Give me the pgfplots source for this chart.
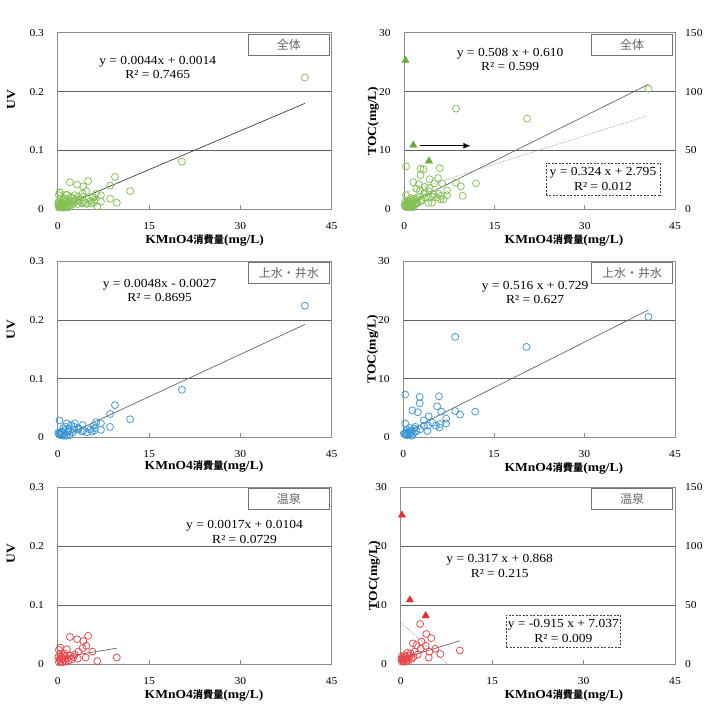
\documentclass[border=0pt]{standalone}
\usepackage{fontspec}
\setmainfont{Liberation Serif}[FakeStretch=1.1]
\newfontfamily\jp{Noto Sans CJK JP}
\usepackage{pgfplots}
\usepackage{pgfplotstable}
\pgfplotsset{compat=1.18}
\usetikzlibrary{arrows.meta}

\definecolor{gcol}{RGB}{132,192,84}
\definecolor{gtri}{RGB}{104,172,58}
\definecolor{bcol}{RGB}{58,150,212}
\definecolor{rcol}{RGB}{232,70,72}
\definecolor{rtri}{RGB}{228,48,48}

% tap / well water samples: KMnO4 consumption, UV absorbance, TOC
\pgfplotstableread{
x    uv    toc
40.6 0.224 20.5
20.4 0.081 15.4
11.9 0.031 4.4
9.4  0.055 3.9
8.6  0.040 17.1
8.6  0.018 4.5
7.1  0.024 3.2
7.1  0.013 2.4
6.3  0.026 4.4
6.1  0.016 2.3
6.0  0.012 1.7
5.9  0.020 7.0
5.6  0.010 5.3
5.4  0.014 2.0
4.8  0.009 2.5
4.2  0.012 3.6
4.1  0.021 2.0
4.0  0.010 1.1
3.4  0.016 2.9
3.4  0.014 2.0
2.8  0.024 1.4
2.7  0.018 6.9
2.7  0.013 5.8
2.4  0.008 4.3
2.2  0.021 1.1
1.9  0.004 0.9
1.8  0.015 1.5
1.6  0.010 0.6
1.5  0.024 4.6
1.3  0.018 1.2
1.2  0.006 0.8
1.1  0.012 1.6
1.0  0.003 0.5
0.9  0.016 1.0
0.8  0.008 0.7
0.7  0.005 1.3
0.6  0.010 0.4
0.5  0.004 0.9
0.4  0.007 0.45
0.3  0.029 7.3
0.3  0.005 2.4
0.2  0.006 0.6
0.1  0.008 0.7
2.0  0.011 1.8
1.4  0.003 0.3
}\wellwater

% hot spring samples
\pgfplotstableread{
x    uv    toc
9.7  0.011 2.3
6.5  0.005 1.7
5.7  0.021 2.6
5.0  0.048 4.4
4.7  0.031 2.1
4.6  0.011 1.1
4.2  0.039 5.1
4.1  0.027 3.1
3.4  0.021 3.8
3.2  0.042 6.8
2.6  0.012 3.2
2.3  0.008 2.1
2.0  0.046 3.5
2.8  0.016 1.6
3.3  0.009 2.6
2.1  0.014 1.2
1.8  0.006 0.9
1.6  0.010 1.8
1.5  0.025 1.4
1.3  0.004 0.6
1.2  0.012 1.0
1.1  0.018 1.9
1.0  0.007 0.5
0.9  0.015 1.2
0.8  0.003 0.8
0.7  0.009 0.4
0.6  0.012 1.5
0.5  0.005 0.7
0.4  0.028 1.1
0.4  0.016 0.5
0.3  0.008 0.9
0.2  0.024 1.3
0.2  0.003 0.4
0.1  0.012 0.8
}\hotspring

% hot spring samples read on the right-hand scale
\pgfplotstableread{
x   toc
0.2 25.3
1.5 10.9
4.1 8.2
}\hotspringout

\tikzset{
  tag/.style={draw=black!55, line width=0.6pt, fill=white, minimum width=81pt,
    minimum height=21pt, inner sep=0pt, anchor=north east, xshift=-2pt,
    yshift=-1pt, text=black!60, font=\jp\fontsize{12}{14}\selectfont},
  eq/.style={align=center, font=\fontsize{12.3}{14.4}\selectfont, inner sep=0pt},
  eqbox/.style={eq, draw=black!75, dash pattern=on 2pt off 1.5pt, line width=0.6pt,
    minimum width=114pt, minimum height=32pt},
}

\pgfplotsset{
  panel/.style={
    scale only axis, height=176.5pt, clip=false,
    xmin=0, xmax=45, xtick={0,15,30,45}, xticklabels={0,15,30,45},
    axis line style={black!45, line width=0.6pt},
    ymajorgrids, grid style={black!62, line width=0.6pt},
    xtick pos=bottom, tick align=inside, major tick length=4pt,
    xtick style={black!45, line width=0.6pt},
    ytick style={draw=none},
    tick label style={font=\fontsize{10.5}{12}\selectfont},
    xticklabel style={anchor=center, yshift=-17pt},
    yticklabel style={anchor=east, inner sep=0pt, xshift=-13.5pt},
    label style={font=\bfseries\fontsize{12.3}{14}\selectfont},
    xlabel={KMnO4{\jp\fontsize{10.2}{12}\selectfont 消費量}(mg/L)},
    xlabel style={anchor=center},
    ylabel style={anchor=center},
  },
  uvpanel/.style={panel, ymin=0, ymax=0.3, ytick={0,0.1,0.2,0.3},
    yticklabels={0,0.1,0.2,0.3}, ylabel={UV}},
  tocpanel/.style={panel, ymin=0, ymax=30, ytick={0,10,20,30},
    yticklabels={0,10,20,30}, ylabel={TOC(mg/L)}},
  pts/.style={only marks, mark=o, mark size=3.5pt, line width=0.75pt, #1},
  tri/.style={only marks, mark=triangle*, mark size=4.2pt, #1},
  fit/.style={black!60, line width=0.7pt, no marks},
  fitdot/.style={black!40, densely dotted, line width=0.7pt, no marks},
  rightscale/.style={scale only axis, height=176.5pt, xmin=0, xmax=45,
    ymin=0, ymax=150, axis x line=none, axis y line*=right,
    axis line style={draw=none}, ytick={0,50,100,150},
    yticklabels={0,50,100,150}, ytick style={draw=none},
    tick label style={font=\fontsize{10.5}{12}\selectfont},
    yticklabel style={anchor=west, inner sep=0pt, xshift=10pt}},
}

\begin{document}
\begin{tikzpicture}
\useasboundingbox (0pt,0pt) rectangle (707pt,725pt);

% ---- all samples: UV ----
\begin{axis}[uvpanel, at={(57.7pt,515.7pt)}, anchor=south west, width=274pt,
  xlabel style={at={(axis description cs:0.536,-0.174)}},
  ylabel style={at={(axis description cs:-0.170,0.62)}}]
\addplot[pts=gcol] table[x=x,y=uv]{\wellwater};
\addplot[pts=gcol] table[x=x,y=uv]{\hotspring};
\addplot[fit, black!75] coordinates {(0,0.0014) (40.6,0.18004)};
\node[eq] at (rel axis cs:0.365,0.802) {y = 0.0044x + 0.0014\\R² = 0.7465};
\node[tag] at (rel axis cs:1,1) {全体};
\end{axis}

% ---- all samples: TOC ----
\begin{axis}[tocpanel, at={(404.3pt,515.7pt)}, anchor=south west, width=270.7pt,
  xlabel style={at={(axis description cs:0.590,-0.174)}},
  ylabel style={at={(axis description cs:-0.1145,0.5)}}]
\addplot[pts=gcol] table[x=x,y=toc]{\wellwater};
\addplot[pts=gcol] table[x=x,y=toc]{\hotspring};
\addplot[tri=gtri] table[x=x,y=toc]{\hotspringout};
\addplot[fit] coordinates {(0.1,0.661) (40.6,21.235)};
\addplot[fitdot] coordinates {(0,2.795) (40.3,15.852)};
\draw[-{Latex[length=7pt,width=6pt]}, line width=1pt] (axis cs:2.6,10.8) -- (axis cs:11,10.8);
\node[eq] at (rel axis cs:0.391,0.849) {y = 0.508 x + 0.610\\R² = 0.599};
\node[eqbox] at (rel axis cs:0.734,0.172) {y = 0.324 x + 2.795\\R² = 0.012};
\node[tag] at (rel axis cs:1,1) {全体};
\end{axis}
\begin{axis}[rightscale, at={(404.3pt,515.7pt)}, anchor=south west, width=270.7pt]
\addplot[draw=none] coordinates {(0,0)};
\end{axis}

% ---- tap / well water: UV ----
\begin{axis}[uvpanel, at={(57.7pt,287.5pt)}, anchor=south west, width=274pt,
  xlabel style={at={(axis description cs:0.534,-0.165)}},
  ylabel style={at={(axis description cs:-0.171,0.61)}}]
\addplot[pts=bcol] table[x=x,y=uv]{\wellwater};
\addplot[fit] coordinates {(0.6,0.00018) (40.6,0.19218)};
\node[eq] at (rel axis cs:0.372,0.834) {y = 0.0048x - 0.0027\\R² = 0.8695};
\node[tag] at (rel axis cs:1,1) {上水・井水};
\end{axis}

% ---- tap / well water: TOC ----
\begin{axis}[tocpanel, at={(403.3pt,287.5pt)}, anchor=south west, width=271.7pt,
  xlabel style={at={(axis description cs:0.591,-0.176)}},
  ylabel style={at={(axis description cs:-0.1126,0.5)}}]
\addplot[pts=bcol] table[x=x,y=toc]{\wellwater};
\addplot[fit] coordinates {(0.1,0.7806) (40.6,21.679)};
\node[eq] at (rel axis cs:0.485,0.82) {y = 0.516 x + 0.729\\R² = 0.627};
\node[tag] at (rel axis cs:1,1) {上水・井水};
\end{axis}

% ---- hot springs: UV ----
\begin{axis}[uvpanel, at={(57.7pt,61pt)}, anchor=south west, width=274pt,
  xlabel style={at={(axis description cs:0.534,-0.176)}},
  ylabel style={at={(axis description cs:-0.171,0.624)}}]
\addplot[pts=rcol] table[x=x,y=uv]{\hotspring};
\addplot[fit] coordinates {(0.1,0.01057) (9.7,0.02689)};
\node[eq] at (rel axis cs:0.682,0.749) {y = 0.0017x + 0.0104\\R² = 0.0729};
\node[tag] at (rel axis cs:1,1) {温泉};
\end{axis}

% ---- hot springs: TOC ----
\begin{axis}[tocpanel, at={(400.7pt,61pt)}, anchor=south west, width=274.3pt,
  xlabel style={at={(axis description cs:0.595,-0.176)}},
  ylabel style={at={(axis description cs:-0.0966,0.5)}}]
\addplot[pts=rcol] table[x=x,y=toc]{\hotspring};
\addplot[tri=rtri] table[x=x,y=toc]{\hotspringout};
\addplot[fit] coordinates {(0.1,0.8997) (9.7,3.9429)};
\addplot[fitdot] coordinates {(0,7.037) (7.69,0.00065)};
\node[eq] at (rel axis cs:0.361,0.555) {y = 0.317 x + 0.868\\R² = 0.215};
\node[eqbox] at (rel axis cs:0.593,0.187) {y = -0.915 x + 7.037\\R² = 0.009};
\node[tag] at (rel axis cs:1,1) {温泉};
\end{axis}
\begin{axis}[rightscale, at={(400.7pt,61pt)}, anchor=south west, width=274.3pt]
\addplot[draw=none] coordinates {(0,0)};
\end{axis}
\end{tikzpicture}
\end{document}
